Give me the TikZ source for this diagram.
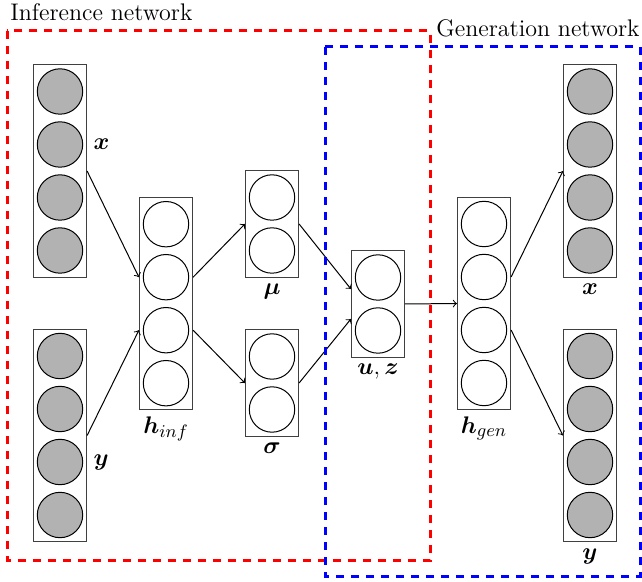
\documentclass[tikz,border=0pt]{standalone}
\usepackage[]{amsmath}
\usepackage{amssymb}
\usetikzlibrary{positioning,arrows}
\usetikzlibrary{backgrounds}
\usetikzlibrary{fit}

\tikzset{
  unit/.style={circle, draw, line width=0.5pt, minimum size=22.7pt, inner sep=0pt},
  obs/.style={unit, fill=gray!60},
  layer/.style={draw=black!75, line width=0.5pt, rectangle, inner sep=1.7pt,
                label distance=0pt},
  lbl/.style={font=\fontsize{12.5}{14}\selectfont, inner sep=3pt},
  title/.style={inner sep=0pt, font=\fontsize{12}{14}\selectfont},
  frame/.style={line width=1.5pt, dash pattern=on 4pt off 3.5pt}
}

\begin{document}
\begin{tikzpicture}[x=0.5pt, y=-0.5pt, >=to, every label/.style={lbl}]
            \useasboundingbox (0,0) rectangle (642,582);

            % units of the two networks
            \foreach \k in {1,...,4} {
                \node[obs] (xi\k) at (60, 38.5+53*\k) {};
                \node[obs] (yi\k) at (60, 303+53*\k) {};
                \node[unit] (hi\k) at (166, 171.2+53*\k) {};
                \node[unit] (hg\k) at (484, 171+53*\k) {};
                \node[obs] (xo\k) at (590, 38.5+53*\k) {};
                \node[obs] (yo\k) at (590, 303+53*\k) {};
            }
            \foreach \k in {1,2} {
                \node[unit] (mu\k) at (272, 144.5+53*\k) {};
                \node[unit] (sg\k) at (272, 303.5+53*\k) {};
                \node[unit] (uz\k) at (378, 224.5+53*\k) {};
            }

            \begin{scope}[on background layer]
                \node[layer, fit=(xi1) (xi4)] (xi) {};
                \node[layer, fit=(yi1) (yi4)] (yi) {};
                \node[layer, fit=(hi1) (hi4), label=below:{$\boldsymbol{h}_{inf}$}] (hi) {};
                \node[layer, fit=(mu1) (mu2), label=below:{$\boldsymbol{\mu}$}] (mu) {};
                \node[layer, fit=(sg1) (sg2), label=below:{$\boldsymbol{\sigma}$}] (sg) {};
                \node[layer, fit=(uz1) (uz2), label=below:{$\boldsymbol{u}, \boldsymbol{z}$}] (uz) {};
                \node[layer, fit=(hg1) (hg4), label=below:{$\boldsymbol{h}_{gen}$}] (hg) {};
                \node[layer, fit=(xo1) (xo4), label=below:{$\boldsymbol{x}$}] (xo) {};
                \node[layer, fit=(yo1) (yo4), label=below:{$\boldsymbol{y}$}] (yo) {};
            \end{scope}

            \node[lbl, anchor=west] (xlab) at (xi.east |- xi2) {$\boldsymbol{x}$};
            \node[lbl, anchor=west] (ylab) at (yi.east |- yi3) {$\boldsymbol{y}$};

            % connections
            \begin{scope}[line width=0.5pt]
            \draw[->] (xi.east) -- (hi.west |- hi2);
            \draw[->] (yi.east) -- (hi.west |- hi3);
            \draw[->] (hi.east |- hi2) -- (mu.west);
            \draw[->] (hi.east |- hi3) -- (sg.west);
            \draw[->] (mu.east) -- ([yshift=7.5pt]uz.west);
            \draw[->] (sg.east) -- ([yshift=-7.5pt]uz.west);
            \draw[->] (uz.east) -- (hg.west);
            \draw[->] (hg.east |- hg2) -- (xo.west);
            \draw[->] (hg.east |- hg3) -- (yo.west);
            \end{scope}

            % network frames
            \draw[frame, red] (7,31) rectangle (430.7,560);
            \draw[frame, blue] (325,47) rectangle (640,576);
            \node[title, anchor=base west] (inftitle) at (10,21) {Inference network};
            \node[title, anchor=base east] (gentitle) at (640,37) {Generation network};
        \end{tikzpicture}
\end{document}
